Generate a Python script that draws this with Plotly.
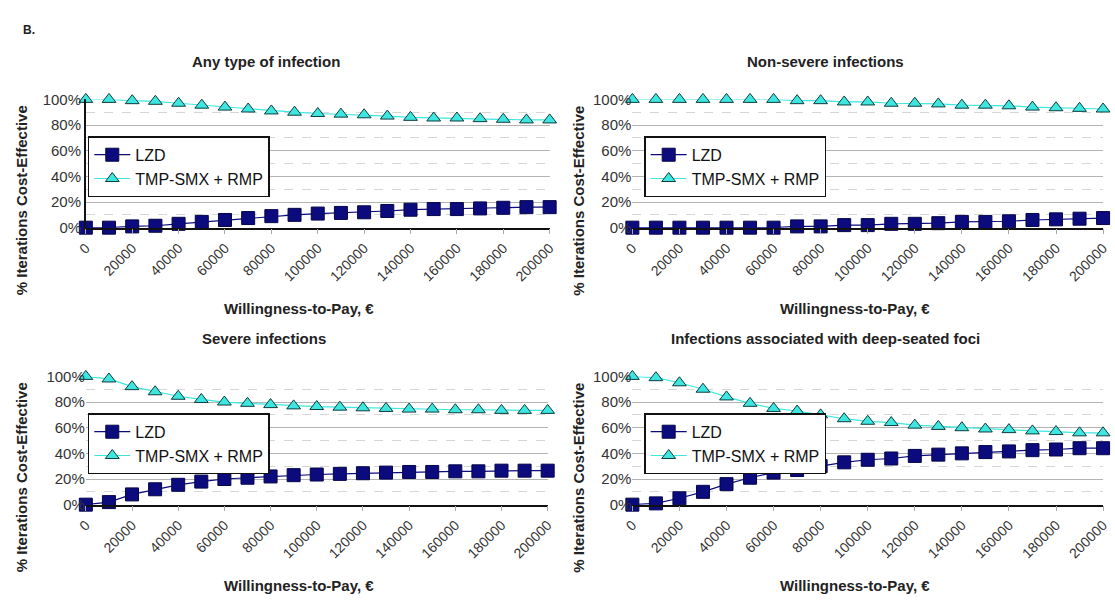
import plotly.graph_objects as go

wtp = [0, 10000, 20000, 30000, 40000, 50000, 60000, 70000, 80000, 90000, 100000,
       110000, 120000, 130000, 140000, 150000, 160000, 170000, 180000, 190000, 200000]
tick_vals = [0, 20000, 40000, 60000, 80000, 100000, 120000, 140000, 160000, 180000, 200000]
tick_text = ["0", "20000", "40000", "60000", "80000", "100000", "120000", "140000",
             "160000", "180000", "200000"]
y_ticks = [0, 20, 40, 60, 80, 100]
y_text = ["0%", "20%", "40%", "60%", "80%", "100%"]

titles = ["Any type of infection", "Non-severe infections", "Severe infections",
          "Infections associated with deep-seated foci"]
series_names = ["LZD", "TMP-SMX + RMP"]

lzd_any = [0, 0, 1, 1.5, 3, 4.5, 6, 7.5, 9, 10, 11, 11.5, 12, 13, 14, 14.5, 14.5, 15, 15.5, 16, 16]
tmp_any = [100, 100, 99, 98.5, 97, 95.5, 94, 92.5, 91, 90, 89, 88.5, 88, 87, 86, 85.5, 85.5, 85, 84.5, 84, 84]

lzd_nonsev = [0, 0, 0, 0, 0, 0, 0, 1, 1, 2, 2, 3, 3, 3.5, 4.5, 4.5, 5, 6, 6.5, 7, 7.5]
tmp_nonsev = [100, 100, 100, 100, 100, 100, 100, 99, 99, 98, 98, 97, 97, 96.5, 95.5, 95.5, 95, 94, 93.5, 93, 92.5]

lzd_sev = [0, 2, 8, 12, 15.5, 18, 20, 21, 22, 23, 23.5, 24, 24.5, 25, 25.5, 25.5, 26, 26, 26.5, 26.5, 26.5]
tmp_sev = [100, 98, 92, 88, 84.5, 82, 80, 79, 78, 77, 76.5, 76, 75.5, 75, 74.5, 74.5, 74, 74, 73.5, 73.5, 73.5]

lzd_deep = [0, 1, 5, 10, 16, 21, 25, 27, 30, 33, 35, 36, 38, 39, 40, 41, 41.5, 42.5, 43, 44, 44]
tmp_deep = [100, 99, 95, 90, 84, 79, 75, 73, 70, 67, 65, 64, 62, 61, 60, 59, 58.5, 57.5, 57, 56, 56]

panels = [(lzd_any, tmp_any), (lzd_nonsev, tmp_nonsev), (lzd_sev, tmp_sev), (lzd_deep, tmp_deep)]

W, H = 1115, 605
# pixel layout of each panel: (x0, x1, ytop(100%), ybottom(0%))
boxes = [(77, 548, 93, 225), (632, 1110, 93, 225), (77, 546, 378, 510), (632, 1110, 378, 510)]
title_x = [260, 828, 258, 828]
xtitle_x = [293, 858, 293, 858]
ytitle_x = [12, 577, 12, 577]
legend_x = [79, 644, 79, 644]

NAVY = "#0b0b7e"
CYAN = "#3ee6e0"
FONT = "Liberation Sans, Arial, sans-serif"

fig = go.Figure()
legend_ids = ["legend", "legend2", "legend3", "legend4"]
for i, (lzd, tmp) in enumerate(panels):
    ax = "" if i == 0 else str(i + 1)
    fig.add_trace(go.Scatter(x=wtp, y=lzd, name=series_names[0], mode="lines+markers",
                             xaxis="x" + ax, yaxis="y" + ax, legend=legend_ids[i],
                             line=dict(color=NAVY, width=1.2),
                             marker=dict(symbol="square", size=13, color=NAVY,
                                         line=dict(color="#05054a", width=1)),
                             cliponaxis=False))
    fig.add_trace(go.Scatter(x=wtp, y=tmp, name=series_names[1], mode="lines+markers",
                             xaxis="x" + ax, yaxis="y" + ax, legend=legend_ids[i],
                             line=dict(color=CYAN, width=1.2),
                             marker=dict(symbol="triangle-up", size=12, color=CYAN,
                                         line=dict(color="#0d3d40", width=1)),
                             cliponaxis=False))

layout = dict(width=W, height=H, margin=dict(l=0, r=0, t=0, b=0),
              paper_bgcolor="white", plot_bgcolor="white", showlegend=True,
              font=dict(family=FONT, color="#222222"))
annotations = []
for i, (x0, x1, yt, yb) in enumerate(boxes):
    ax = "" if i == 0 else str(i + 1)
    layout["xaxis" + ax] = dict(
        domain=[x0 / W, x1 / W], anchor="y" + ax, range=[0, 200000],
        tickmode="array", tickvals=tick_vals, ticktext=tick_text, tickangle=-45,
        tickfont=dict(size=14, color="#333333"), ticks="outside", ticklen=5,
        tickcolor="#aaaaaa", showgrid=False, zeroline=False, showline=True,
        linecolor="#111111", linewidth=1.5)
    layout["yaxis" + ax] = dict(
        domain=[1 - yb / H, 1 - yt / H], anchor="x" + ax, range=[0, 100],
        tickmode="array", tickvals=y_ticks, ticktext=y_text,
        tickfont=dict(size=15, color="#333333"), showgrid=True,
        gridcolor="#b4b4b4", gridwidth=1, zeroline=False,
        showline=(i == 0), linecolor="#111111", linewidth=1.5, ticklen=0,
        minor=dict(dtick=20, tick0=10, showgrid=True, gridcolor="#d6d6d6",
                   griddash="dash", gridwidth=1))
    lid = legend_ids[i]
    layout[lid] = dict(x=legend_x[i] / W, y=1 - (yt + 38) / H,
                       xanchor="left", yanchor="top", bgcolor="white",
                       bordercolor="#111111", borderwidth=1.5,
                       font=dict(size=16, family=FONT, color="#111111"),
                       itemwidth=36, tracegroupgap=0)
    annotations.append(dict(text="<b>" + titles[i] + "</b>", x=title_x[i] / W,
                            y=1 - (yt - 39) / H, xref="paper", yref="paper",
                            xanchor="center", yanchor="middle",
                            showarrow=False, font=dict(size=15, family=FONT, color="#222222")))
    annotations.append(dict(text="<b>Willingness-to-Pay, €</b>", x=xtitle_x[i] / W,
                            y=1 - (yb + 83) / H, xref="paper", yref="paper",
                            xanchor="center", yanchor="middle",
                            showarrow=False, font=dict(size=15, family=FONT, color="#222222")))
    annotations.append(dict(text="<b>% Iterations Cost-Effective</b>", x=ytitle_x[i] / W,
                            y=1 - (yt + 104) / H, xref="paper", yref="paper", textangle=-90,
                            xanchor="center", yanchor="middle",
                            showarrow=False, font=dict(size=15, family=FONT, color="#222222")))
annotations.append(dict(text="<b>B.</b>", x=19 / W, y=1 - 22 / H, xref="paper", yref="paper",
                        showarrow=False, xanchor="center", yanchor="middle",
                        font=dict(size=12, family=FONT, color="#222222")))
layout["annotations"] = annotations
fig.update_layout(**layout)
fig.write_html("out.html")
